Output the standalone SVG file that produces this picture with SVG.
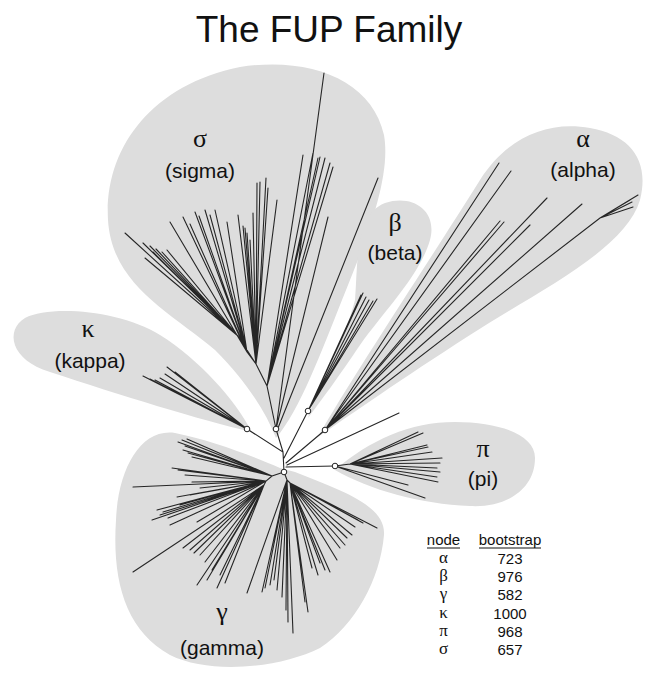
<svg xmlns="http://www.w3.org/2000/svg" width="646" height="673" viewBox="0 0 646 673">
<style>
.blob{fill:#dddddd;stroke:none}
.br{fill:none;stroke:#262626;stroke-width:1.1;stroke-linecap:round}
.nd{fill:#ffffff;stroke:#222222;stroke-width:1}
.gk{font-family:"Liberation Serif","Times New Roman",serif;font-size:26px;fill:#111;text-anchor:middle}
.lb{font-family:"Liberation Sans",Arial,sans-serif;font-size:21px;fill:#111;text-anchor:middle}
.tb{font-family:"Liberation Sans",Arial,sans-serif;font-size:15px;fill:#111;text-anchor:middle}
.tg{font-family:"Liberation Serif","Times New Roman",serif;font-size:17px;fill:#111;text-anchor:middle}
.ul{stroke:#111;stroke-width:1}
</style>
<rect width="646" height="673" fill="#ffffff"/>
<text x="329" y="42" font-family="'Liberation Sans',Arial,sans-serif" font-size="37" fill="#111" text-anchor="middle">The FUP Family</text>

<g id="sigma">
<path class="blob" d="M276,438 C265,410 245,380 215,350 C170,312 112,285 108,220 C104,150 150,85 240,67 C310,56 372,80 384,135 C392,180 362,250 342,300 C322,350 300,410 276,438 Z"/>
<text class="gk" x="200" y="147">σ</text>
<text class="lb" x="200" y="178">(sigma)</text>
</g>
<g id="beta">
<path class="blob" d="M308,418 C320,380 345,340 355,300 C358,260 355,215 385,203 C412,194 438,210 430,240 C420,275 385,310 360,345 C340,375 318,405 308,418 Z"/>
<text class="gk" x="395" y="231">β</text>
<text class="lb" x="395" y="260">(beta)</text>
</g>
<g id="alpha">
<path class="blob" d="M318,437 C350,380 430,260 480,180 C505,140 545,120 590,128 C630,135 650,160 640,200 C625,250 540,290 470,335 C400,380 350,415 318,437 Z"/>
<text class="gk" x="583" y="147">α</text>
<text class="lb" x="583" y="177">(alpha)</text>
</g>
<g id="kappa">
<path class="blob" d="M252,432 C200,420 120,395 50,372 C10,360 5,330 25,318 C50,305 120,310 160,335 C200,360 235,400 252,432 Z"/>
<text class="gk" x="88" y="337">κ</text>
<text class="lb" x="90" y="368">(kappa)</text>
</g>
<g id="pi">
<path class="blob" d="M335,470 C370,440 410,422 455,422 C500,422 535,435 535,458 C535,490 505,508 470,506 C420,504 370,490 335,470 Z"/>
<text class="gk" x="483" y="457">π</text>
<text class="lb" x="483" y="486">(pi)</text>
</g>
<g id="gamma">
<path class="blob" d="M280,468 C250,455 210,440 175,433 C140,428 118,470 116,520 C112,580 125,630 170,655 C210,675 280,668 320,648 C355,625 380,580 384,535 C386,505 340,490 295,472 Z"/>
<text class="gk" x="222" y="620">γ</text>
<text class="lb" x="222" y="655">(gamma)</text>
</g>

<g id="connectors">
<path class="br" d="M284,472 L283,452 L247,429 M283,452 L276,429 M284,458 L308,411 M286,463 L325,430 M286,467 L335,466 M287,465 L399,413"/>
<path class="br" d="M276,429 L267,386 L256,364 L238,336 M256,364 L247,352
M238,336 L125,233 M238,336 L143,243 M238,336 L145,258 M238,336 L150,246 M238,336 L156,249 M238,336 L162,252 M238,336 L167,250 M238,336 L153,252
M247,352 L170,222 M247,352 L183,217 M247,352 L190,224 M247,352 L195,212 M247,352 L199,216 M247,352 L205,210 M247,352 L215,210 M247,352 L227,222 M247,352 L210,215
M256,364 L238,215 M256,364 L243,226 M256,364 L247,233 M256,364 L250,240 M256,364 L253,213 M256,364 L257,183 M256,364 L260,182 M256,364 L266,178 M256,364 L268,188 M256,364 L277,200 M256,364 L245,228
M267,386 L303,155 M267,386 L313,153 M267,386 L318,158 M267,386 L320,157 M267,386 L325,158 M267,386 L330,163 M267,386 L333,167
M276,429 L324,73 M276,429 L328,217 M278,428 L378,178"/>
<path class="br" d="M247,429 L143,376 M247,429 L150,379 M247,429 L155,380 M247,429 L165,374 M247,429 L167,367 M247,429 L175,372 M247,429 L160,378"/>
<path class="br" d="M308,411 L361,295 M308,411 L363,293 M308,411 L366,297 M308,411 L369,300 M308,411 L373,301 M308,411 L377,299"/>
<path class="br" d="M325,430 L499,163 M325,430 L511,171 M325,430 L547,198 M325,430 L500,221 M325,430 L504,222 M325,430 L530,225 M325,430 L582,204 M325,430 L600,218 L638,195 M600,218 L633,207 M600,218 L632,202 M600,218 L630,200"/>
<path class="br" d="M335,466 L350,464 L418,432 M350,464 L423,433 M350,464 L427,445 M350,464 L428,447 M350,464 L442,458 M350,464 L440,463 M350,464 L437,468 M350,464 L440,472 M350,464 L437,477 M350,464 L438,482 M350,464 L432,452 M335,466 L408,485 M335,466 L425,498"/>
<path class="br" d="M284,472 L272,476 L266,481 L264,485 M284,472 L287,480 L290,483
M272,476 L178,442 M272,476 L182,440 M272,476 L187,439 M272,476 L183,450 M272,476 L188,453 M272,476 L192,457 M272,476 L185,446
M266,481 L172,468 M266,481 L178,470 M266,481 L185,475 M266,481 L133,487 M266,481 L192,482 M266,481 L177,497 M266,481 L200,488 M266,481 L163,512 M266,481 L152,520 M266,481 L170,525 M266,481 L168,518 M266,481 L160,515 M266,481 L197,522 M266,481 L180,505 M266,481 L190,495 M266,481 L157,510
M264,485 L133,572 M264,485 L183,548 M264,485 L190,550 M264,485 L200,555 M264,485 L205,562 M264,485 L197,585 M264,485 L217,588 M264,485 L207,580 M264,485 L212,570 M264,485 L220,575 M264,485 L225,583 M264,485 L194,553
M287,480 L247,593 M287,480 L262,592 M287,480 L265,588 M287,480 L270,585 M287,480 L277,590 M287,480 L282,597 M287,480 L288,622 M287,480 L293,633 M287,480 L286,610 M287,480 L274,580
M290,483 L305,602 M290,483 L308,612 M290,483 L312,568 M290,483 L320,563 M290,483 L325,570 M290,483 L330,572 M290,483 L337,560 M290,483 L340,548 M290,483 L345,545 M290,483 L347,538 M290,483 L352,535 M290,483 L358,520 M290,483 L363,523 M290,483 L377,528 M290,483 L355,527 M290,483 L318,575"/>
</g>

<g id="node-markers">
<circle class="nd" cx="247" cy="429" r="2.8"/>
<circle class="nd" cx="276" cy="429" r="2.8"/>
<circle class="nd" cx="308" cy="411" r="2.8"/>
<circle class="nd" cx="325" cy="430" r="2.8"/>
<circle class="nd" cx="335" cy="466" r="2.8"/>
<circle class="nd" cx="284" cy="472" r="2.8"/>
</g>

<g id="table">
<text class="tb" x="443.5" y="545">node</text>
<text class="tb" x="510" y="545">bootstrap</text>
<line class="ul" x1="427" y1="548" x2="460" y2="548"/>
<line class="ul" x1="479" y1="548" x2="541" y2="548"/>
<text class="tg" x="443.5" y="563">α</text><text class="tb" x="510" y="564">723</text>
<text class="tg" x="443.5" y="581">β</text><text class="tb" x="510" y="582">976</text>
<text class="tg" x="443.5" y="599">γ</text><text class="tb" x="510" y="600">582</text>
<text class="tg" x="443.5" y="618">κ</text><text class="tb" x="510" y="619">1000</text>
<text class="tg" x="443.5" y="636">π</text><text class="tb" x="510" y="637">968</text>
<text class="tg" x="443.5" y="654">σ</text><text class="tb" x="510" y="655">657</text>
</g>
</svg>
